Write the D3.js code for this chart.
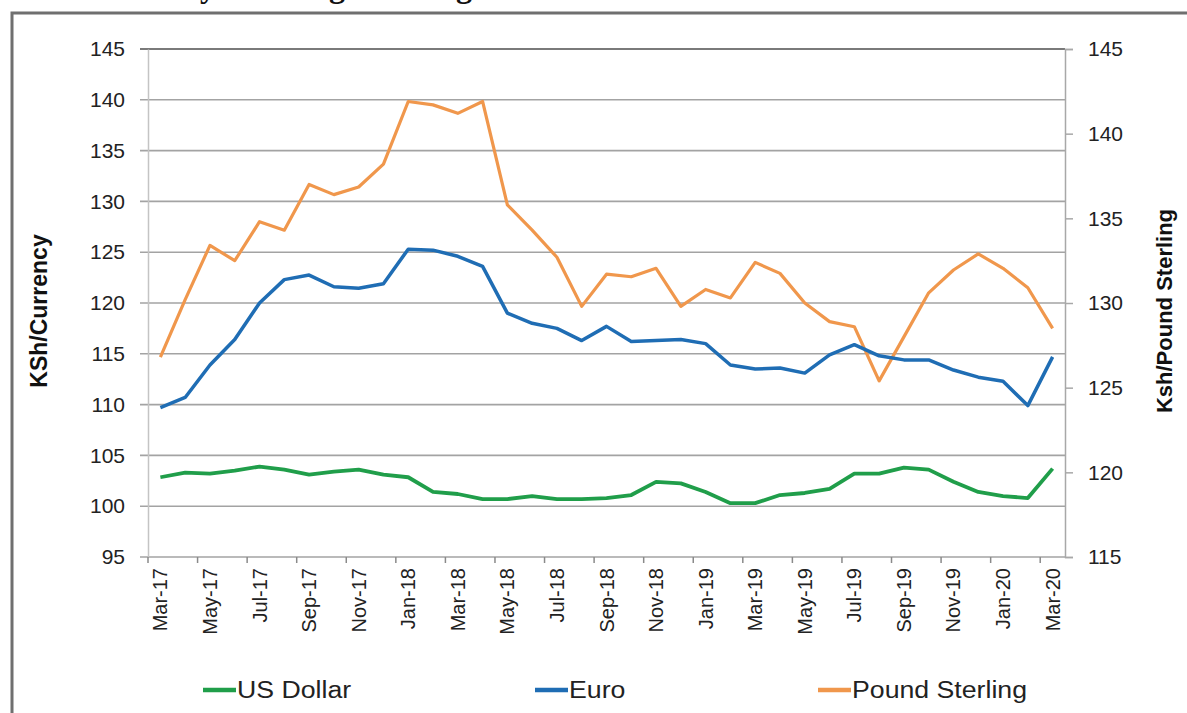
<!DOCTYPE html>
<html>
<head>
<meta charset="utf-8">
<script src="https://d3js.org/d3.v7.min.js"></script>
<style>
  body { margin: 0; background: #fff; }
  svg { display: block; }
</style>
</head>
<body>
<div id="chart"></div>
<script>
// monthly categories, Mar-17 .. Mar-20
var months = ["Mar-17","Apr-17","May-17","Jun-17","Jul-17","Aug-17","Sep-17","Oct-17","Nov-17","Dec-17",
              "Jan-18","Feb-18","Mar-18","Apr-18","May-18","Jun-18","Jul-18","Aug-18","Sep-18","Oct-18",
              "Nov-18","Dec-18","Jan-19","Feb-19","Mar-19","Apr-19","May-19","Jun-19","Jul-19","Aug-19",
              "Sep-19","Oct-19","Nov-19","Dec-19","Jan-20","Feb-20","Mar-20"];

var usDollar = [102.85, 103.3, 103.2, 103.5, 103.9, 103.6, 103.1, 103.4, 103.6, 103.1,
                102.85, 101.4, 101.2, 100.7, 100.7, 101.0, 100.7, 100.7, 100.8, 101.1,
                102.4, 102.25, 101.4, 100.3, 100.3, 101.1, 101.3, 101.7, 103.2, 103.2,
                103.8, 103.6, 102.4, 101.4, 101.0, 100.8, 103.7];

var euro = [109.7, 110.7, 113.9, 116.4, 120.0, 122.3, 122.75, 121.6, 121.45, 121.9,
            125.3, 125.2, 124.6, 123.6, 119.0, 118.0, 117.5, 116.3, 117.7, 116.2,
            116.3, 116.4, 116.0, 113.9, 113.5, 113.6, 113.1, 114.9, 115.9, 114.8,
            114.4, 114.4, 113.4, 112.7, 112.3, 109.9, 114.7];

// pound sterling is plotted against the right axis
var poundSterling = [126.8, 130.2, 133.4, 132.5, 134.8, 134.3, 137.0, 136.4, 136.85, 138.2,
                     141.9, 141.7, 141.2, 141.9, 135.8, 134.3, 132.7, 129.8, 131.7, 131.55,
                     132.05, 129.8, 130.8, 130.3, 132.4, 131.75, 130.0, 128.9, 128.6, 125.4,
                     128.0, 130.6, 131.95, 132.9, 132.05, 130.9, 128.5];

var leftTicks = [95, 100, 105, 110, 115, 120, 125, 130, 135, 140, 145];
var rightTicks = [115, 120, 125, 130, 135, 140, 145];
var labelMonths = months.filter(function(d, i) { return i % 2 === 0; });

var seriesNames = ["US Dollar", "Euro", "Pound Sterling"];
var seriesColors = ["#209e4a", "#1f6db4", "#f0974c"];

var W = 1187, H = 713;
var margin = {top: 49, right: 122, bottom: 156, left: 148};
var width = W - margin.left - margin.right;
var height = H - margin.top - margin.bottom;
var font = "'Liberation Sans', Arial, sans-serif";

var root = d3.select("#chart").append("svg")
    .attr("width", W)
    .attr("height", H);

// title of the page above the figure, only its descenders are in view
var title = root.append("text")
    .attr("y", -3)
    .attr("font-family", "'Liberation Serif', 'Times New Roman', serif")
    .attr("font-weight", "bold")
    .attr("font-size", "32px")
    .attr("fill", "#111")
    .text("Kenya Shilling Exchange Rates");
var yOff = title.node().getSubStringLength(0, 4);
title.attr("x", 216 - yOff);

// figure frame
root.append("path")
    .attr("d", "M12," + H + "V13H" + W)
    .attr("fill", "none")
    .attr("stroke", "#6f6f6f")
    .attr("stroke-width", 3);

var svg = root.append("g")
    .attr("transform", "translate(" + margin.left + "," + margin.top + ")");

var x = d3.scaleBand()
    .domain(months)
    .range([0, width])
    .padding(0);

var yL = d3.scaleLinear().domain([95, 145]).range([height, 0]);
var yR = d3.scaleLinear().domain([115, 145]).range([height, 0]);

// gridlines
svg.append("g")
    .selectAll("line")
    .data(leftTicks)
    .enter()
    .append("line")
      .attr("x1", -8)
      .attr("x2", width)
      .attr("y1", function(d) { return yL(d); })
      .attr("y2", function(d) { return yL(d); })
      .attr("stroke", function(d) { return d === 145 ? "#7a7a7a" : "#a3a3a3"; })
      .attr("stroke-width", function(d) { return d === 145 ? 2 : 1.6; });

// left axis
var yAxisL = svg.append("g")
    .call(d3.axisLeft(yL).tickValues(leftTicks).tickSize(0).tickPadding(23));
yAxisL.select(".domain").attr("stroke", "#c4c4c4").attr("stroke-width", 1.5);
yAxisL.selectAll("text")
    .attr("font-family", font)
    .attr("font-size", "21px")
    .attr("fill", "#222");

// right axis
var yAxisR = svg.append("g")
    .attr("transform", "translate(" + width + ",0)")
    .call(d3.axisRight(yR).tickValues(rightTicks).tickSize(8).tickPadding(15));
yAxisR.select(".domain").attr("stroke", "#a8a8a8").attr("stroke-width", 1.5);
yAxisR.selectAll(".tick line").attr("stroke", "#a8a8a8").attr("stroke-width", 1.5);
yAxisR.selectAll("text")
    .attr("font-family", font)
    .attr("font-size", "21px")
    .attr("fill", "#222");

// bottom axis: labels every second month, tick marks on the category edges
var xAxis = svg.append("g")
    .attr("transform", "translate(0," + height + ")")
    .call(d3.axisBottom(x).tickValues(labelMonths).tickSize(0).tickPadding(0));
xAxis.select(".domain").remove();
xAxis.selectAll("text")
    .attr("font-family", font)
    .attr("font-size", "20px")
    .attr("fill", "#222")
    .attr("text-anchor", "end")
    .attr("dy", "0.35em")
    .attr("transform", "translate(0,11) rotate(-90)");

svg.append("g")
    .selectAll("line")
    .data(labelMonths)
    .enter()
    .append("line")
      .attr("x1", function(d) { return x(d); })
      .attr("x2", function(d) { return x(d); })
      .attr("y1", height)
      .attr("y2", height + 6)
      .attr("stroke", "#8a8a8a")
      .attr("stroke-width", 1.5);

// axis titles
svg.append("text")
    .attr("transform", "translate(-101," + (height / 2 + 8) + ") rotate(-90)")
    .attr("text-anchor", "middle")
    .attr("font-family", font)
    .attr("font-weight", "bold")
    .attr("font-size", "23px")
    .attr("fill", "#111")
    .text("KSh/Currency");

svg.append("text")
    .attr("transform", "translate(" + (width + 107) + "," + (height / 2 + 8) + ") rotate(-90)")
    .attr("text-anchor", "middle")
    .attr("font-family", font)
    .attr("font-weight", "bold")
    .attr("font-size", "22px")
    .attr("fill", "#111")
    .text("Ksh/Pound Sterling");

// lines
function cx(i) { return x(months[i]) + x.bandwidth() / 2; }

var lineL = d3.line()
    .x(function(d, i) { return cx(i); })
    .y(function(d) { return yL(d); });
var lineR = d3.line()
    .x(function(d, i) { return cx(i); })
    .y(function(d) { return yR(d); });

svg.append("path")
    .datum(poundSterling)
    .attr("d", lineR)
    .attr("fill", "none")
    .attr("stroke", seriesColors[2])
    .attr("stroke-width", 3.2)
    .attr("stroke-linejoin", "round");

svg.append("path")
    .datum(euro)
    .attr("d", lineL)
    .attr("fill", "none")
    .attr("stroke", seriesColors[1])
    .attr("stroke-width", 3.5)
    .attr("stroke-linejoin", "round");

svg.append("path")
    .datum(usDollar)
    .attr("d", lineL)
    .attr("fill", "none")
    .attr("stroke", seriesColors[0])
    .attr("stroke-width", 3.8)
    .attr("stroke-linejoin", "round");

// legend
var legendX = [203, 535, 818];
var legend = root.append("g")
    .selectAll("g")
    .data(seriesNames)
    .enter()
    .append("g")
      .attr("transform", function(d, i) { return "translate(" + legendX[i] + ",690)"; });

legend.append("line")
    .attr("x1", 0)
    .attr("x2", 33)
    .attr("stroke", function(d, i) { return seriesColors[i]; })
    .attr("stroke-width", 4.5);

legend.append("text")
    .attr("x", 34)
    .attr("dy", "0.36em")
    .attr("font-family", font)
    .attr("font-size", "23px")
    .attr("fill", "#222")
    .text(function(d) { return d; })
    .each(function() {
      // the reference legend is drawn a little wide
      var len = this.getComputedTextLength();
      d3.select(this).attr("textLength", len * 1.16).attr("lengthAdjust", "spacingAndGlyphs");
    });
</script>
</body>
</html>
